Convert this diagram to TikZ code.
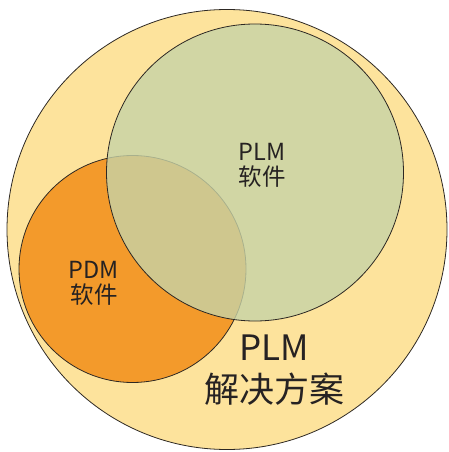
\documentclass[tikz,border=0pt]{standalone}
\usepackage{fontspec}
\setmainfont{Noto Sans CJK SC}
\definecolor{outerY}{RGB}{253,227,156}
\definecolor{pdmO}{RGB}{243,154,43}
\definecolor{plmG}{RGB}{199,211,167}
\definecolor{txt}{RGB}{38,34,34}
\definecolor{edge}{RGB}{45,40,35}
\begin{document}
\begin{tikzpicture}[x=1pt,y=-1pt,
  ring/.style={circle, draw=edge, line width=0.8pt, inner sep=0pt},
  lbl/.style={text=txt, align=center, inner sep=0pt},
  small/.style={lbl, font=\fontsize{23.5}{25}\selectfont},
  big/.style={lbl, font=\fontsize{35}{42}\selectfont}]
\useasboundingbox (0,0) rectangle (448,452);
\node[ring, fill=outerY, minimum size=440pt] (outer) at (227,229.5) {};
\node[ring, fill=pdmO, minimum size=227pt] (pdm) at (132.5,269) {};
\node[ring, fill=plmG, fill opacity=0.8, minimum size=297pt] (plm) at (255,172.5) {};
\node[small] (plmtxt) at (262,165) {PLM\\软件};
\node[small] (pdmtxt) at (94,283.5) {PDM\\软件};
\node[big] (soltxt) at (274,370) {PLM\\解决方案};
\end{tikzpicture}
\end{document}
